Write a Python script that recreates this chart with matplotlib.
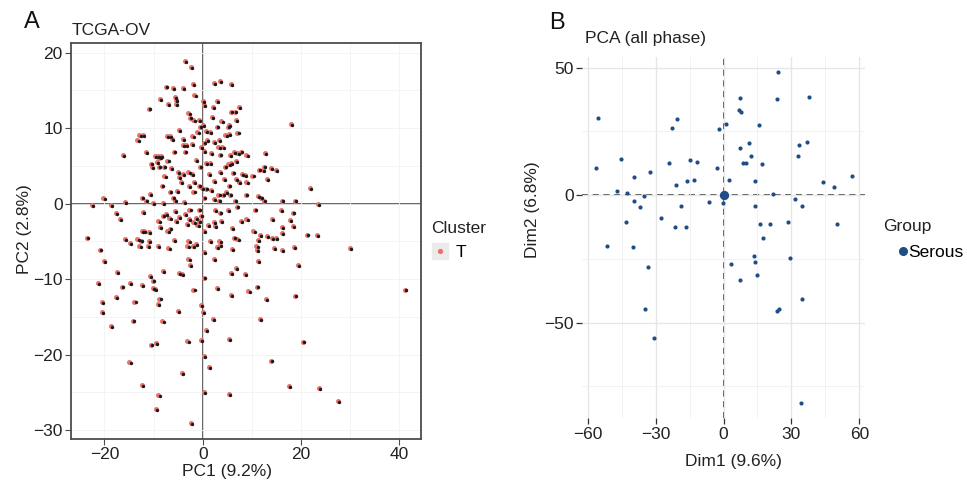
import matplotlib
matplotlib.use("Agg")
import matplotlib.pyplot as plt
import matplotlib.transforms as mtransforms
from matplotlib.lines import Line2D
from matplotlib.legend_handler import HandlerTuple

plt.rcParams['font.family'] = ['Liberation Sans', 'DejaVu Sans']

# PCA scores, TCGA-OV tumour samples
tcga_pc1 = [
    -3.7, -2.4, 2.2, 3.5, 5.7, -2.0, -7.5, -6.0, -4.1, -8.7, -5.6, -5.4, -7.1, -5.5,
    -1.7, 0.0, 0.3, 2.8, 2.0, -10.9, 5.7, 6.6, 7.3, -2.9, -2.6, -1.9, -0.7, 1.8, 3.8,
    6.8, -0.5, 0.0, 2.8, 5.1, 5.4, 18.0, -4.8, -7.3, -6.6, -2.1, -12.9, -12.2, -13.3,
    -1.1, 0.7, 1.5, 3.3, 4.6, 7.05, 5.4, -4.1, -3.4, -2.2, -6.3, -4.1, 0.2, 0.9, 2.2,
    3.2, 4.0, 6.4, 7.7, 7.05, 8.9, 12.7, -16.3, -11.5, -9.7, -9.2, -8.5, -8.8, -5.8,
    -3.6, -0.3, 0.3, 1.7, 3.5, 5.6, -10.6, -9.3, -7.2, -1.4, 0.7, 1.5, 5.2, 5.7, 6.8,
    -10.4, -8.9, -7.9, -6.4, -0.5, 4.5, 6.2, 11.5, 12.2, 12.5, 13.8, 14.9, -5.1, -2.9,
    -4.1, -4.8, -2.2, 1.2, 3.5, 8.0, 8.6, 10.1, 6.8, 13.0, -7.8, -4.4, -1.8, 2.2, 4.3,
    7.3, 8.9, -8.3, -2.8, -0.7, -0.2, 0.7, 5.4, 21.8, -10.7, -6.6, -5.3, -1.9, 1.7,
    3.2, 4.1, 4.7, 5.6, 8.7, 11.3, 11.9, -20.2, -15.8, -12.4, -11.6, -10.2, -8.1,
    -6.1, -5.6, -3.9, 0.3, 2.3, 3.3, 6.6, 12.5, 16.1, 18.8, -22.6, -18.6, 23.5,
    -12.1, -7.5, -5.6, -2.7, -0.7, 2.5, 5.1, 6.9, 10.6, 15.9, 18.4, -17.6, -16.9,
    -8.1, -6.8, -4.8, -3.7, -2.8, -1.4, -0.3, 3.5, 3.7, 8.9, 14.0, 17.8, -9.0, -5.4,
    -1.9, -0.7, 1.0, 2.2, 7.8, -8.7, -6.6, -3.3, -1.1, 2.4, 5.9, 16.1, 18.4, -12.3,
    -11.9, -10.9, -7.2, 0.3, 10.3, 16.1, -15.9, -13.3, -12.5, -23.5, -14.8, -10.9,
    -5.8, -2.9, -2.0, -1.4, 1.5, 3.4, 6.4, 7.05, 11.3, 11.7, 13.0, 14.0, 14.9, 21.2,
    23.3, -12.9, -11.2, -9.2, -7.0, -3.1, 0.3, 2.8, 3.5, 6.0, 10.9, 11.0, 14.4, 16.1,
    18.6, -20.9, 30.0, -20.1, -2.9, 2.2, 11.3, -2.6, 19.3, -17.5, -8.1, -4.9, -4.3,
    0.3, 5.7, 6.8, 8.6, -10.7, -10.2, -21.4, -14.8, -16.5, -12.3, -10.2, -9.8, -1.9,
    2.8, 9.3, 11.0, 41.2, -17.6, 5.7, 18.8, -8.8, -20.5, -13.9, -9.1, -0.4, 12.9,
    -5.1, -20.5, 0.0, -14.2, -8.2, 2.0, 11.7, -18.6, 0.6, -3.1, -0.4, 5.4, 20.3,
    -10.6, -9.6, 0.3, -14.9, 13.8, 1.2, -4.2, -12.4, 17.6, 23.7, 0.3, 5.4, -9.0,
    27.5, -9.5, -2.4,
]
tcga_pc2 = [
    18.9, 18.1, 16.0, 16.2, 15.8, 15.8, 15.5, 15.3, 15.3, 13.9, 14.1, 13.7, 13.2, 13.2,
    14.4, 13.6, 13.1, 13.6, 12.8, 12.6, 12.2, 12.2, 12.8, 12.0, 11.4, 11.1, 11.1, 11.5,
    10.9, 11.1, 10.2, 10.4, 10.2, 10.2, 10.4, 10.5, 9.7, 9.0, 9.0, 8.9, 9.1, 9.1, 8.4,
    9.5, 9.6, 9.5, 8.4, 9.1, 9.4, 9.2, 7.8, 7.8, 7.9, 8.5, 8.5, 8.1, 8.4, 8.2,
    7.5, 7.5, 6.8, 6.9, 6.7, 6.4, 6.7, 6.4, 6.8, 6.3, 6.3, 6.3, 6.1, 6.9,
    6.9, 7.5, 7.0, 6.7, 6.5, 6.4, 5.3, 5.5, 5.7, 5.8, 5.4, 5.4, 5.2, 5.4, 5.6,
    4.8, 4.9, 4.9, 4.7, 4.9, 4.9, 4.1, 4.5, 4.4, 4.9, 4.7, 4.4, 4.2, 4.2,
    3.9, 3.5, 3.9, 3.9, 4.2, 3.9, 3.8, 3.7, 3.3, 3.3, 3.6, 2.8, 2.8, 3.0, 3.2,
    2.8, 2.8, 2.4, 2.3, 2.4, 2.1, 2.0, 2.4, 2.1, 1.3, 1.6, 1.7, 1.6, 1.8,
    1.2, 1.2, 1.5, 1.2, 1.2, 1.0, 0.8, 0.7, 0.2, 0.8, 0.4, 0.1, 0.1,
    0.8, 0.4, 0.2, 0.8, 0.6, 0.4, 0.4, 0.4, 0.4, 0.4, -0.2, -0.2, -0.1,
    -1.1, -1.4, -1.0, -0.8, -0.8, -0.9, -0.9, -0.4, -0.8, -0.9, -1.2, -1.3, -2.1,
    -1.6, -1.9, -1.8, -1.4, -2.1, -1.9, -1.6, -1.2, -2.3, -2.0, -2.1, -2.2, -2.3, -2.3,
    -2.4, -2.3, -2.8, -2.4, -2.3, -3.1, -3.3, -2.7, -2.8, -3.0, -3.2, -3.1, -3.0, -3.6,
    -3.6, -3.8, -3.6, -3.6, -3.6, -3.9, -4.7, -4.7, -4.9, -4.5, -5.2, -5.0,
    -4.8, -5.0, -5.6, -5.4, -5.0, -5.0, -4.5, -4.7, -4.8, -4.2, -4.3, -4.6, -4.6, -4.1,
    -4.2, -5.6, -5.6, -5.6, -5.9, -5.6, -6.4, -5.8, -5.5, -6.0, -5.6, -6.2, -5.9, -6.2,
    -5.8, -6.1, -5.9, -7.6, -7.4, -7.4, -7.6, -8.1, -8.1, -9.1, -8.9, -9.2, -9.3,
    -9.8, -9.2, -8.6, -9.3, -9.6, -10.2, -10.5, -10.5, -11.0, -10.8, -11.2, -11.3, -11.4,
    -11.2, -11.6, -11.0, -11.4, -12.4, -12.1, -12.2, -12.6, -13.1, -13.0, -13.3, -13.4, -12.7,
    -14.2, -14.4, -14.4, -15.5, -15.6, -15.3, -15.3, -16.2, -16.8, -18.2, -18.1, -18.0, -18.3,
    -18.7, -18.5, -20.2, -21.0, -20.8, -21.7, -22.5, -24.1, -24.2, -24.4, -25.0, -25.2, -25.4,
    -26.2, -27.2, -29.1,
]

# PCA individuals, serous samples (all phase)
serous_dim1 = [
    -55.4, -56.3, -51.4, -47.3, -45.2, -42.6, -43.0, -39.5, -39.5, -39.9, -37.1,
    -35.1, -32.3, -33.3, -34.9, -30.6, -27.5, -24.0, -22.8, -20.5, -21.5, -20.8,
    -18.9, -16.5, -16.2, -14.9, -13.0, -11.8, -6.3, -2.7, -2.1, 0.9, -0.1, 2.4,
    3.4, 7.2, 6.9, 7.5, 7.1, 8.4, 10.0, 11.2, 12.2, 15.5, 16.9, 14.1, 13.7, 15.9,
    17.5, 20.6, 21.9, 13.5, 14.0, 14.7, 7.2, 24.2, 23.6, 37.8, 33.4, 36.8, 33.1,
    31.4, 34.6, 28.4, 29.3, 34.8, 23.4, 24.6, 34.2, 44.0, 48.9, 56.6, 50.1,
]
serous_dim2 = [
    30.1, 10.7, -20.1, 1.7, 14.1, 0.9, -10.5, 7.2, -2.4, -20.3, -4.6,
    -0.3, 8.9, -28.1, -44.7, -56.2, -9.0, 12.5, 26.3, 29.7, -12.4, 3.9,
    -4.4, -12.4, 5.4, 13.6, 6.0, 13.1, -2.5, 10.8, 26.0, 27.8, -3.0, 6.0,
    -27.1, 38.0, 33.5, 32.7, 18.4, 12.8, 12.8, 20.5, 15.2, 27.5, 12.3, 5.6, -4.4, -11.2,
    -16.7, -11.2, 0.5, -23.7, -26.4, -31.4, -33.1, 48.5, 37.9, 38.4, 19.5, 20.9, 15.4,
    -1.4, -4.4, -10.7, -24.6, -40.8, -45.4, -44.8, -81.4, 5.2, 3.1, 7.7, -11.2,
]
serous_center = ([0.0], [0.0])

red = '#e8736c'
navy = '#1f4e85'
txt = '#222222'

fig = plt.figure(figsize=(9.67, 4.86), dpi=100)

# ---- panel A: TCGA-OV ----
ax1 = fig.add_axes([0.0734, 0.0967, 0.362, 0.815])
ax1.set_xlim(-26.8, 44.4)
ax1.set_ylim(-31.2, 21.3)
ax1.set_xticks([-20, 0, 20, 40])
ax1.set_yticks([-30, -20, -10, 0, 10, 20])
ax1.set_xticks(range(-20, 50, 10), minor=True)
ax1.set_yticks(range(-30, 21, 5), minor=True)
ax1.grid(True, which='both', color='#f3f3f3', lw=0.6, zorder=0)
ax1.axhline(0, color='#4a4a4a', lw=1.2, zorder=1)
ax1.axvline(0, color='#4a4a4a', lw=1.2, zorder=1)
shift = mtransforms.offset_copy(ax1.transData, fig=fig, x=1.2, y=-0.8, units='dots')
ax1.scatter(tcga_pc1, tcga_pc2, s=13, color=red, lw=0, zorder=3)
ax1.scatter(tcga_pc1, tcga_pc2, s=6, color='#1a1a1a', lw=0, zorder=4, transform=shift)
for sp in ax1.spines.values():
    sp.set_color('#4d4d4d')
    sp.set_linewidth(1.3)
ax1.tick_params(which='major', length=4, width=0.8, color='#4d4d4d', labelsize=12.5,
                labelcolor=txt, pad=2)
ax1.tick_params(which='minor', length=0)
ax1.set_xlabel('PC1 (9.2%)', fontsize=12.5, color=txt)
ax1.set_ylabel('PC2 (2.8%)', fontsize=12.5, color=txt)
ax1.xaxis.set_label_coords(0.447, -0.062)
ax1.yaxis.set_label_coords(-0.111, 0.529)
fig.text(72 / 967, 1 - 30 / 486, 'TCGA-OV', fontsize=12.5, color=txt, va='center')
fig.text(24 / 967, 1 - 22 / 486, 'A', fontsize=17, color='#111111', va='center')

key = (Line2D([], [], marker='s', ms=11, color='#ebebeb', ls=''),
       Line2D([], [], marker='o', ms=2.8, color=red, ls=''))
leg1 = ax1.legend([key], ['T'], handler_map={tuple: HandlerTuple(ndivide=1)},
                  title='Cluster', frameon=False, loc='upper left',
                  bbox_to_anchor=(1.01, 0.567), fontsize=12.5, title_fontsize=12.5,
                  handlelength=1.0, handletextpad=0.4, borderaxespad=0, alignment='left')
leg1.get_title().set_color(txt)

# ---- panel B: PCA (all phase) ----
ax2 = fig.add_axes([0.602, 0.1393, 0.2925, 0.744])
ax2.set_xlim(-62.5, 62.5)
ax2.set_ylim(-87.5, 54.3)
ax2.set_xticks([-60, -30, 0, 30, 60])
ax2.set_yticks([-50, 0, 50])
ax2.set_xticks([-45, -15, 15, 45], minor=True)
ax2.set_yticks([-75, -25, 25], minor=True)
ax2.grid(True, which='major', color='#e6e6e6', lw=1.0, zorder=0)
ax2.grid(True, which='minor', color='#f0f0f0', lw=0.6, zorder=0)
ax2.axhline(0, color='#1a1a1a', lw=1.1, ls=(0, (4, 3)), zorder=1)
ax2.axvline(0, color='#1a1a1a', lw=1.1, ls=(0, (4, 3)), zorder=1)
ax2.scatter(serous_dim1, serous_dim2, s=9, color=navy, lw=0, zorder=3)
ax2.scatter(*serous_center, s=45, color=navy, lw=0, zorder=3)
for sp in ax2.spines.values():
    sp.set_visible(False)
ax2.tick_params(which='major', length=4, width=0.9, color='#333333', labelsize=12.5,
                labelcolor=txt, pad=2)
ax2.tick_params(which='minor', length=0)
ax2.set_xlabel('Dim1 (9.6%)', fontsize=12.5, color=txt)
ax2.set_ylabel('Dim2 (6.8%)', fontsize=12.5, color=txt)
ax2.xaxis.set_label_coords(0.535, -0.099)
ax2.yaxis.set_label_coords(-0.149, 0.576)
fig.text(585 / 967, 1 - 39 / 486, 'PCA (all phase)', fontsize=12.5, color=txt, va='center')
fig.text(549 / 967, 1 - 23 / 486, 'B', fontsize=17, color='#111111', va='center')

# group legend: title sits flush left, the key is indented under it
fig.text(883 / 967, 1 - 226 / 486, 'Group', fontsize=12.5, color=txt, va='center')
leg2 = ax2.legend([Line2D([], [], marker='o', ms=5.5, color=navy, ls='')], ['Serous'],
                  frameon=False, loc='center left',
                  bbox_to_anchor=(1.119, (418.3 - 252) / 361.6), fontsize=12.5,
                  handlelength=0.5, handletextpad=0.05, borderaxespad=0, borderpad=0)

fig.savefig('out.png', dpi=100)
